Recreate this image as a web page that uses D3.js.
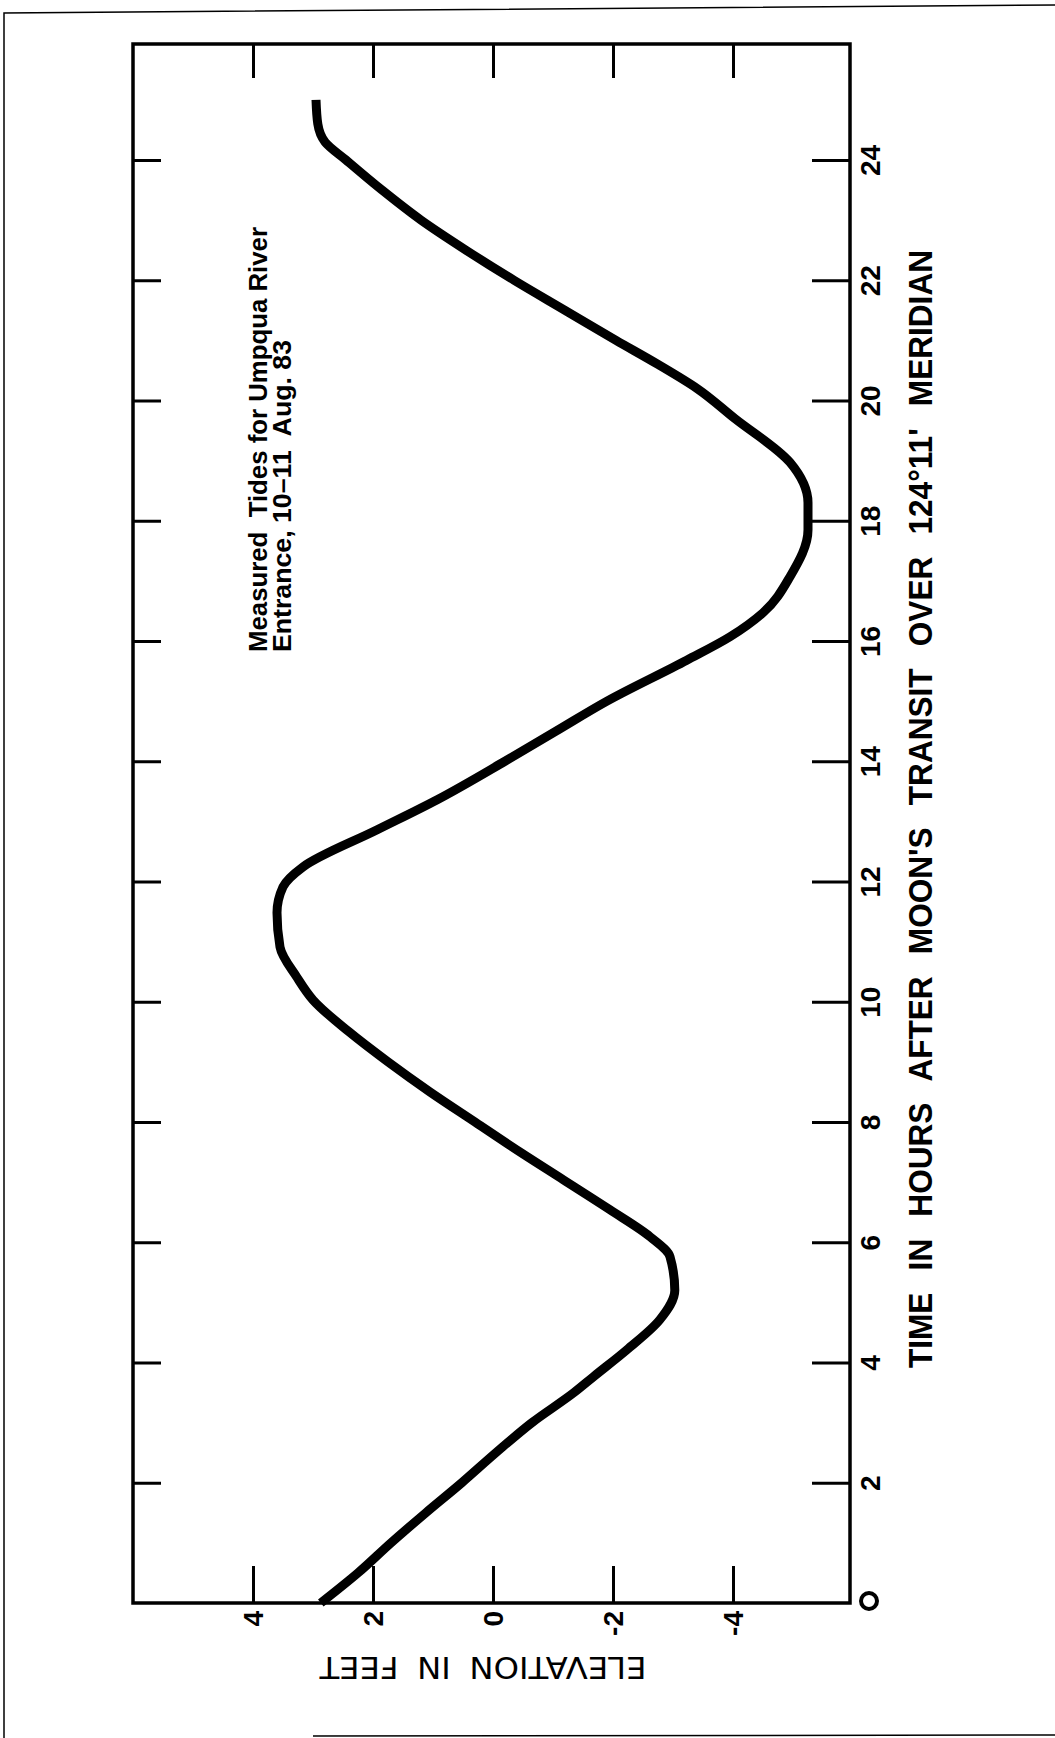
<!DOCTYPE html>
<meta charset="utf-8">
<style>
body { margin:0; background:white; }
svg { display:block; }
.tick line { stroke:#000; stroke-width:3; }
.tick text { fill:#000; }
</style>
<body>
<svg width="1055" height="1738"></svg>
<script src="https://d3js.org/d3.v7.min.js"></script>
<script>

// tide curve
var hours = [0, 0.5, 1, 1.5, 2, 2.5, 3, 3.5, 3.76, 4.21, 4.71, 5.2, 5.76, 6.09, 6.54, 7.04, 7.5, 8, 8.5, 9, 9.5,
  10.03, 10.41, 10.91, 11.48, 11.91, 12.24, 12.86, 13.36, 14, 14.5, 15, 15.68, 16.07, 16.47, 17.07, 17.85,
  18.3, 18.97, 19.7, 20.2, 20.6, 21, 21.5, 22, 22.5, 23, 23.5, 24, 24.3, 24.6, 25];
var elevation = [2.87, 2.25, 1.7, 1.12, 0.52, -0.05, -0.65, -1.35, -1.67, -2.23, -2.78, -3.03, -2.95, -2.62, -1.95, -1.17, -0.45, 0.3, 1.05, 1.75, 2.4,
  3.0, 3.27, 3.55, 3.6, 3.5, 3.17, 1.93, 0.93, -0.2, -1.05, -1.9, -3.23, -3.95, -4.5, -4.95, -5.25,
  -5.25, -4.95, -4.03, -3.4, -2.75, -2.05, -1.2, -0.35, 0.45, 1.2, 1.85, 2.45, 2.8, 2.92, 2.95];

var hourTicks = [0, 2, 4, 6, 8, 10, 12, 14, 16, 18, 20, 22, 24];
var elevTicks = [4, 2, 0, -2, -4];

var timeTitle = "TIME IN HOURS AFTER MOON'S TRANSIT OVER 124°11' MERIDIAN";
var elevTitle = "ELEVATION IN FEET";
var note = ["Measured  Tides for Umpqua River", "Entrance, 10–11  Aug. 83"];

var svg = d3.select("svg");
var pLeft = 133, pRight = 850, pTop = 44, pBottom = 1603;
var labelFont = "bold 28px 'Liberation Sans', Arial, sans-serif";

// chart is printed sideways: elevation runs across, time runs up
var x = d3.scaleLinear().domain([6, -6]).range([pLeft, 853]);
var y = d3.scaleLinear().domain([0, 24]).range([pBottom, 160]);

// page border (no right edge on the scan)
svg.append("path")
  .attr("d", "M1055,5 L4,13 L4,1738 M313,1736 L1055,1735")
  .attr("fill", "none").attr("stroke", "#000").attr("stroke-width", 1.5);

// right axis: hours
var gR = svg.append("g").attr("transform", "translate(" + pRight + ",0)")
  .call(d3.axisRight(y).tickValues(hourTicks).tickSizeInner(-38).tickSizeOuter(0).tickFormat(d3.format("d")));
gR.select(".domain").remove();
gR.selectAll(".tick").filter(function(d){ return d === 0; }).remove();
gR.selectAll(".tick text")
  .attr("x", 0).attr("y", 0).attr("dy", null)
  .attr("transform", "translate(20,0) rotate(-90)")
  .attr("text-anchor", "middle").attr("dominant-baseline", "central")
  .style("font", labelFont);

// left axis: same hours, ticks only
var gL = svg.append("g").attr("transform", "translate(" + pLeft + ",0)")
  .call(d3.axisLeft(y).tickValues(hourTicks.slice(1)).tickSizeInner(-28).tickSizeOuter(0).tickFormat(""));
gL.select(".domain").remove();

// bottom axis: elevation
var gB = svg.append("g").attr("transform", "translate(0," + pBottom + ")")
  .call(d3.axisBottom(x).tickValues(elevTicks).tickSizeInner(-37).tickSizeOuter(0).tickFormat(function(d){ return String(d); }));
gB.select(".domain").remove();
gB.selectAll(".tick text")
  .attr("x", 0).attr("y", 0).attr("dy", null)
  .attr("transform", "translate(0,8) rotate(-90)")
  .attr("text-anchor", "end").attr("dominant-baseline", "central")
  .style("font", labelFont);

// top axis: ticks only
var gT = svg.append("g").attr("transform", "translate(0," + pTop + ")")
  .call(d3.axisTop(x).tickValues(elevTicks).tickSizeInner(-34).tickSizeOuter(0).tickFormat(""));
gT.select(".domain").remove();

// frame
svg.append("rect")
  .attr("x", pLeft).attr("y", pTop).attr("width", pRight - pLeft).attr("height", pBottom - pTop)
  .attr("fill", "none").attr("stroke", "#000").attr("stroke-width", 3.5);

// hour 0 label sits on the corner as a small ring
svg.append("circle").attr("cx", pRight + 19).attr("cy", y(0) - 2).attr("r", 8)
  .attr("fill", "none").attr("stroke", "#000").attr("stroke-width", 4);

// tide curve
var pts = hours.map(function(h, i){ return [x(elevation[i]), y(h)]; });
svg.append("path")
  .attr("d", d3.line().curve(d3.curveMonotoneY)(pts))
  .attr("fill", "none").attr("stroke", "#000").attr("stroke-width", 9)
  .attr("stroke-linejoin", "round").attr("stroke-linecap", "butt");

// axis titles
svg.append("text")
  .attr("transform", "translate(920,809) rotate(-90)")
  .attr("text-anchor", "middle").attr("dominant-baseline", "central")
  .attr("textLength", 1118).attr("lengthAdjust", "spacingAndGlyphs")
  .style("font", "bold 33px 'Liberation Sans', Arial, sans-serif")
  .style("word-spacing", "14px")
  .text(timeTitle);

svg.append("text")
  .attr("transform", "translate(483,1668) rotate(180)")
  .attr("text-anchor", "middle").attr("dominant-baseline", "central")
  .attr("textLength", 327).attr("lengthAdjust", "spacingAndGlyphs")
  .style("font", "31px 'DejaVu Sans', sans-serif")
  .style("word-spacing", "8px")
  .text(elevTitle);

// annotation
svg.append("text")
  .attr("transform", "translate(267,652) rotate(-90)")
  .attr("textLength", 425).attr("lengthAdjust", "spacingAndGlyphs")
  .style("font", "bold 26px 'Liberation Sans', Arial, sans-serif")
  .style("white-space", "pre")
  .text(note[0]);
svg.append("text")
  .attr("transform", "translate(291,652) rotate(-90)")
  .attr("textLength", 312).attr("lengthAdjust", "spacingAndGlyphs")
  .style("font", "bold 26px 'Liberation Sans', Arial, sans-serif")
  .style("white-space", "pre")
  .text(note[1]);

</script>
</body>
